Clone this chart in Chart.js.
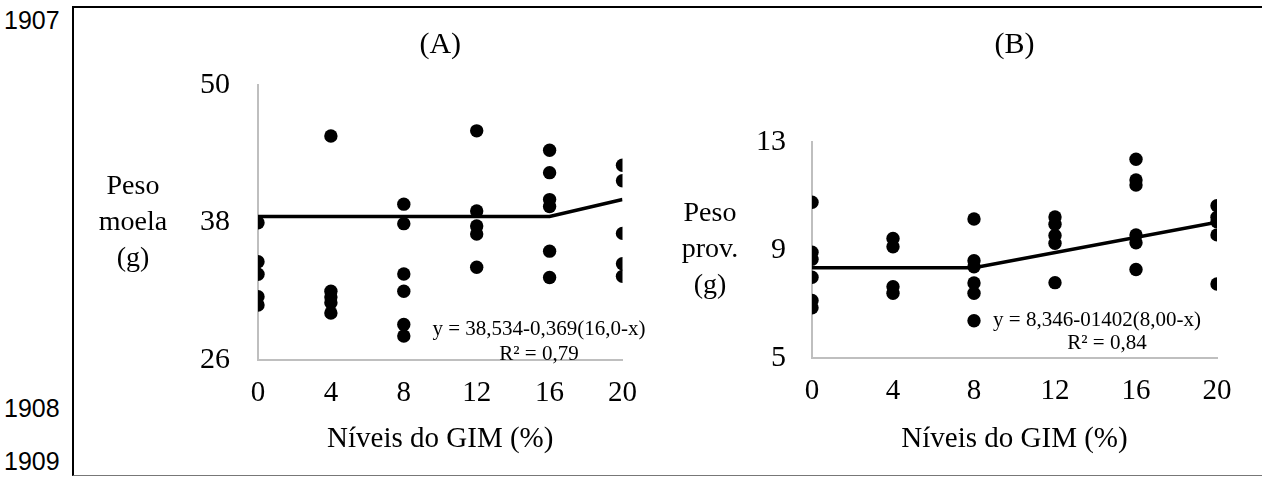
<!DOCTYPE html>
<html>
<head>
<meta charset="utf-8">
<script src="https://cdn.jsdelivr.net/npm/chart.js@4.4.1/dist/chart.umd.min.js"></script>
<style>
  html, body { margin:0; padding:0; background:#fff; }
  body { width:1262px; height:477px; position:relative; overflow:hidden; font-family:'Liberation Serif','Times New Roman',serif; }
  .frame { position:absolute; left:72px; top:6px; width:1200px; height:467px; border-left:2px solid #000; border-top:2px solid #000; border-bottom:1px solid #777; }
  .ln { position:absolute; left:4px; font-family:'Liberation Sans',Arial,sans-serif; font-size:25px; line-height:25px; color:#000; }
  .ytitle { position:absolute; width:120px; text-align:center; font-size:28px; line-height:36px; color:#000; }
  .eq { position:absolute; width:300px; text-align:center; font-size:21px; line-height:24px; color:#000; white-space:nowrap; }
  canvas { position:absolute; }
</style>
</head>
<body>
<div class="frame"></div>
<div class="ln" style="top:8px">1907</div>
<div class="ln" style="top:396px">1908</div>
<div class="ln" style="top:449px">1909</div>

<canvas id="chart-a" width="580" height="469" style="left:73px;top:7px"></canvas>
<canvas id="chart-b" width="609" height="469" style="left:653px;top:7px"></canvas>

<div class="ytitle" style="left:73px;top:167px">Peso<br>moela<br>(g)</div>
<div class="ytitle" style="left:650px;top:194px">Peso<br>prov.<br>(g)</div>

<div class="eq" style="left:389px;top:316px">y = 38,534-0,369(16,0-x)</div>
<div class="eq" style="left:389px;top:341px">R² = 0,79</div>
<div class="eq" style="left:947px;top:307px">y = 8,346-01402(8,00-x)</div>
<div class="eq" style="left:957px;top:330px">R² = 0,84</div>

<script>
// ─── Data ─────────────────────────────────────────────────────────────────────

// (A) Peso moela (g)
const moelaX = [0,0,0,0,0, 4,4,4,4,4, 8,8,8,8,8,8, 12,12,12,12,12, 16,16,16,16,16,16, 20,20,20,20,20];
const moelaY = [37.98,34.58,33.48,31.53,30.8, 45.55,32.0,31.5,31.0,30.1, 39.6,37.9,33.5,32.0,29.1,28.1,
                46.0,39.0,37.7,37.0,34.1, 44.3,42.35,40.0,39.4,35.5,33.2, 43.0,41.65,37.05,34.4,33.3];
const moelaFitX = [0, 16, 20];
const moelaFitY = [38.534, 38.534, 40.01];
const moelaTicks = [26, 38, 50];

// (B) Peso proventrículo (g)
const provX = [0,0,0,0,0,0, 4,4,4,4, 8,8,8,8,8,8, 12,12,12,12,12, 16,16,16,16,16,16, 20,20,20,20,20];
const provY = [10.77,8.92,8.66,7.99,7.13,6.86, 9.43,9.12,7.64,7.4, 10.15,8.6,8.38,7.78,7.4,6.38,
               10.22,9.95,9.54,9.25,7.79, 12.36,11.59,11.41,9.56,9.27,8.28, 10.64,10.21,10.05,9.56,7.74];
const provFitX = [0, 8, 20];
const provFitY = [8.346, 8.346, 10.03];
const provTicks = [5, 9, 13];

const gimTicks = [0, 4, 8, 12, 16, 20];

// ─── Chart builder ────────────────────────────────────────────────────────────

const SERIF = "'Liberation Serif','Times New Roman',serif";
const AXIS_GRAY = '#bfbfbf';
const pts = (xs, ys) => xs.map((x,i) => ({ x, y: ys[i] }));

function makePanel(id, cfg) {
  return new Chart(document.getElementById(id), {
    type: 'scatter',
    data: {
      datasets: [
        { type:'line', data:pts(cfg.fitX, cfg.fitY), borderColor:'#000', borderWidth:3.5,
          pointRadius:0, fill:false, tension:0, order:0 },
        { data:pts(cfg.x, cfg.y), backgroundColor:'#000', borderWidth:0,
          pointRadius:6.7, pointHoverRadius:6.7, order:1 },
      ]
    },
    options: {
      responsive:false, animation:false,
      layout:{ padding:{ left:0, right:cfg.padRight, top:0, bottom:0 } },
      plugins:{
        legend:{ display:false }, tooltip:{ enabled:false },
        title:{ display:true, text:cfg.title, fullSize:false, color:'#000',
                font:{ family:SERIF, size:30, weight:'normal' },
                padding:{ top:20, bottom:cfg.titleBottom } },
      },
      scales:{
        x:{
          type:'linear', min:0, max:20,
          afterBuildTicks: s => { s.ticks = gimTicks.map(v => ({ value:v })); },
          afterFit: s => { s.height = cfg.xHeight; },
          grid:{ display:false, drawTicks:false },
          border:{ color:AXIS_GRAY, width:2 },
          ticks:{ color:'#000', padding:16, font:{ family:SERIF, size:29 } },
          title:{ display:true, text:'Níveis do GIM (%)', color:'#000',
                  font:{ family:SERIF, size:29 }, padding:{ top:0, bottom:19 } },
        },
        y:{
          min:cfg.yTicks[0], max:cfg.yTicks[cfg.yTicks.length-1],
          afterBuildTicks: s => { s.ticks = cfg.yTicks.map(v => ({ value:v })); },
          afterFit: s => { s.width = cfg.yWidth; },
          grid:{ display:false, drawTicks:false },
          border:{ color:AXIS_GRAY, width:2 },
          ticks:{ color:'#000', padding:cfg.tickPad, font:{ family:SERIF, size:30 } },
        },
      }
    }
  });
}

makePanel('chart-a', {
  title:'(A)', x:moelaX, y:moelaY, fitX:moelaFitX, fitY:moelaFitY, yTicks:moelaTicks,
  yWidth:185, padRight:25, xHeight:116, titleBottom:22, tickPad:28,
});

makePanel('chart-b', {
  title:'(B)', x:provX, y:provY, fitX:provFitX, fitY:provFitY, yTicks:provTicks,
  yWidth:159, padRight:45, xHeight:118, titleBottom:79, tickPad:26,
});
</script>
</body>
</html>
